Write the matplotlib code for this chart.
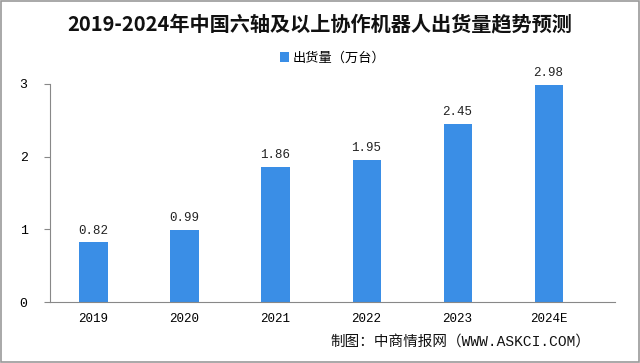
import matplotlib
matplotlib.use("Agg")
import matplotlib.pyplot as plt
from matplotlib.patches import Rectangle

plt.rcParams['font.family'] = ['Noto Sans CJK SC', 'DejaVu Sans']
MONO = ['Liberation Mono', 'Noto Sans CJK SC']

categories = ["2019", "2020", "2021", "2022", "2023", "2024E"]
values = [0.82, 0.99, 1.86, 1.95, 2.45, 2.98]
yticks = [0, 1, 2, 3]
title = "2019-2024年中国六轴及以上协作机器人出货量趋势预测"
series_name = "出货量（万台）"
source = "制图：中商情报网（WWW.ASKCI.COM）"

fig = plt.figure(figsize=(6.4, 3.63), dpi=100)
ax = fig.add_axes([0.078, 0.168, 0.883, 0.601])

x = list(range(len(categories)))
ax.bar(x, values, width=0.31, color="#3A8EE6", label=series_name, zorder=2)
for xi, v in zip(x, values):
    ax.text(xi, v + 0.08, f"{v:.2f}", ha="center", va="bottom", fontsize=9,
            color="#222222", family=MONO)

ax.set_xlim(-0.48, 5.73)
ax.set_ylim(0, 3)
ax.set_yticks(yticks)
ax.set_xticks(x)
ax.set_xticklabels(categories, fontsize=9, family=MONO)
for lab in ax.get_yticklabels():
    lab.set_family(MONO)
ax.tick_params(axis='y', labelsize=9.5, length=4, color="#888888", pad=12)
ax.tick_params(axis='x', length=0, pad=8)
for s in ["top", "right"]:
    ax.spines[s].set_visible(False)
for s in ["left", "bottom"]:
    ax.spines[s].set_color("#888888")
    ax.spines[s].set_linewidth(0.8)

fig.text(0.5, 0.935, title, ha="center", va="center", fontsize=14.5, fontweight="bold", color="#111111")
ax.legend(loc="center", bbox_to_anchor=(0.5, 1.118), frameon=False, fontsize=9.5,
          handlelength=0.7, handleheight=0.7, handletextpad=0.3)
fig.text(0.922, 0.058, source, ha="right", va="center", fontsize=10.5, color="#111111", family=MONO)

fig.patches.append(Rectangle((0.002, 0.003), 0.996, 0.994, transform=fig.transFigure,
                             fill=False, edgecolor="#999999", linewidth=1.2))

fig.savefig("out.png", dpi=100, facecolor="white")
